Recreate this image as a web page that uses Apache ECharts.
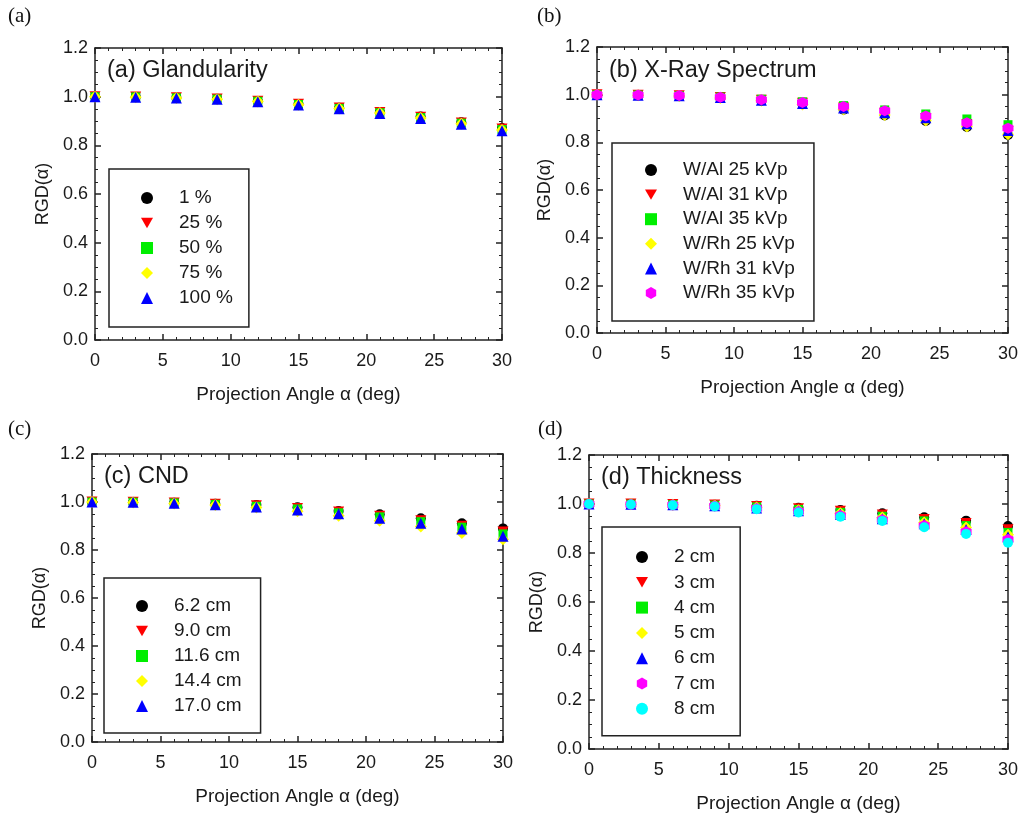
<!DOCTYPE html>
<html>
<head>
<meta charset="utf-8">
<script src="https://cdn.jsdelivr.net/npm/echarts@6/dist/echarts.min.js"></script>
<style>
  html, body { margin: 0; padding: 0; background: #fff; }
  #chart { width: 1021px; height: 816px; }
</style>
</head>
<body>
<div id="chart"></div>
<script>
// projection angles (deg)
const angles = [0, 3, 6, 9, 12, 15, 18, 21, 24, 27, 30];

// (a) glandularity
const glandLabels = ['1 %', '25 %', '50 %', '75 %', '100 %'];
const gland1   = [1.000, 0.999, 0.996, 0.991, 0.982, 0.970, 0.954, 0.937, 0.918, 0.895, 0.871];
const gland25  = [1.000, 0.999, 0.996, 0.990, 0.981, 0.969, 0.953, 0.935, 0.915, 0.892, 0.867];
const gland50  = [1.000, 0.999, 0.995, 0.990, 0.981, 0.968, 0.952, 0.934, 0.914, 0.891, 0.865];
const gland75  = [1.000, 0.998, 0.995, 0.989, 0.980, 0.967, 0.951, 0.933, 0.912, 0.889, 0.863];
const gland100 = [1.000, 0.998, 0.995, 0.989, 0.979, 0.966, 0.950, 0.931, 0.910, 0.887, 0.860];

// (b) x-ray spectrum
const specLabels = ['W/Al 25 kVp', 'W/Al 31 kVp', 'W/Al 35 kVp', 'W/Rh 25 kVp', 'W/Rh 31 kVp', 'W/Rh 35 kVp'];
const wal25 = [1.000, 0.998, 0.994, 0.986, 0.975, 0.960, 0.937, 0.913, 0.890, 0.864, 0.831];
const wal31 = [1.000, 0.998, 0.995, 0.988, 0.977, 0.964, 0.944, 0.922, 0.900, 0.875, 0.845];
const wal35 = [1.000, 0.999, 0.996, 0.990, 0.981, 0.970, 0.954, 0.936, 0.919, 0.898, 0.874];
const wrh25 = [1.000, 0.998, 0.994, 0.986, 0.975, 0.959, 0.938, 0.915, 0.892, 0.866, 0.834];
const wrh31 = [1.000, 0.998, 0.995, 0.988, 0.977, 0.963, 0.944, 0.924, 0.903, 0.878, 0.850];
const wrh35 = [1.000, 0.999, 0.996, 0.989, 0.979, 0.967, 0.950, 0.932, 0.911, 0.882, 0.859];

// (c) compressed breast diameter
const cndLabels = ['6.2 cm', '9.0 cm', '11.6 cm', '14.4 cm', '17.0 cm'];
const cnd62  = [1.000, 0.999, 0.997, 0.993, 0.988, 0.978, 0.962, 0.949, 0.932, 0.911, 0.890];
const cnd90  = [1.000, 0.999, 0.996, 0.991, 0.984, 0.973, 0.958, 0.941, 0.922, 0.899, 0.875];
const cnd116 = [1.000, 0.999, 0.996, 0.990, 0.982, 0.971, 0.955, 0.938, 0.918, 0.895, 0.867];
const cnd144 = [1.000, 0.998, 0.994, 0.987, 0.977, 0.961, 0.943, 0.922, 0.898, 0.871, 0.845];
const cnd170 = [1.000, 0.999, 0.995, 0.989, 0.979, 0.967, 0.951, 0.932, 0.911, 0.887, 0.857];

// (d) thickness
const thickLabels = ['2 cm', '3 cm', '4 cm', '5 cm', '6 cm', '7 cm', '8 cm'];
const thick2 = [1.000, 1.000, 0.999, 0.997, 0.993, 0.985, 0.976, 0.962, 0.946, 0.932, 0.910];
const thick3 = [1.000, 1.000, 0.998, 0.996, 0.990, 0.981, 0.970, 0.955, 0.937, 0.920, 0.895];
const thick4 = [1.000, 0.999, 0.998, 0.995, 0.988, 0.978, 0.966, 0.950, 0.931, 0.912, 0.884];
const thick5 = [1.000, 0.999, 0.997, 0.994, 0.986, 0.975, 0.962, 0.945, 0.925, 0.904, 0.875];
const thick6 = [1.000, 0.999, 0.997, 0.993, 0.984, 0.972, 0.958, 0.940, 0.919, 0.896, 0.866];
const thick7 = [1.000, 0.998, 0.996, 0.992, 0.982, 0.969, 0.953, 0.936, 0.912, 0.887, 0.855];
const thick8 = [1.000, 0.998, 0.995, 0.990, 0.979, 0.965, 0.948, 0.931, 0.905, 0.878, 0.842];

// marker styles
const INV_TRI = 'path://M-10,-8.66 L10,-8.66 L0,8.66 Z';
const HEXAGON = 'path://M0,-10 L8.66,-5 L8.66,5 L0,10 L-8.66,5 L-8.66,-5 Z';
const mk = {
  circle:  { symbol: 'circle', size: 10 },
  down:    { symbol: INV_TRI, size: 11 },
  square:  { symbol: 'rect', size: 9 },
  diamond: { symbol: 'diamond', size: 12 },
  up:      { symbol: 'triangle', size: 11 },
  hex:     { symbol: HEXAGON, size: 11 },
};

const FONT = 'Liberation Sans, Arial, sans-serif';
const TXT = '#1a1a1a';

const panels = [
  { letter: '(a)', title: '(a) Glandularity', labels: glandLabels,
    data: [gland1, gland25, gland50, gland75, gland100],
    marks: [mk.circle, mk.down, mk.square, mk.diamond, mk.up],
    colors: ['#000000', '#ff0000', '#00ee00', '#ffff00', '#0000ff'],
    grid: { left: 95, top: 48, width: 407, height: 292 },
    letterPos: [8, 6], titlePos: [107, 59],
    legend: { left: 109, top: 169, padding: [19, 16, 19, 32], gap: 5 } },
  { letter: '(b)', title: '(b) X-Ray Spectrum', labels: specLabels,
    data: [wal25, wal31, wal35, wrh25, wrh31, wrh35],
    marks: [mk.circle, mk.down, mk.square, mk.diamond, mk.up, mk.hex],
    colors: ['#000000', '#ff0000', '#00ee00', '#ffff00', '#0000ff', '#ff00ff'],
    grid: { left: 597, top: 47, width: 411, height: 286 },
    letterPos: [537, 6], titlePos: [609, 59],
    legend: { left: 612, top: 143, padding: [17, 19, 18, 33], gap: 4.6 } },
  { letter: '(c)', title: '(c) CND', labels: cndLabels,
    data: [cnd62, cnd90, cnd116, cnd144, cnd170],
    marks: [mk.circle, mk.down, mk.square, mk.diamond, mk.up],
    colors: ['#000000', '#ff0000', '#00ee00', '#ffff00', '#0000ff'],
    grid: { left: 92, top: 454, width: 411, height: 288 },
    letterPos: [8, 419], titlePos: [104, 465],
    legend: { left: 104, top: 578, padding: [18, 19, 17, 32], gap: 5 } },
  { letter: '(d)', title: '(d) Thickness', labels: thickLabels,
    data: [thick2, thick3, thick4, thick5, thick6, thick7, thick8],
    marks: [mk.circle, mk.down, mk.square, mk.diamond, mk.up, mk.hex, mk.circle],
    colors: ['#000000', '#ff0000', '#00ee00', '#ffff00', '#0000ff', '#ff00ff', '#00ffff'],
    grid: { left: 589, top: 455, width: 419, height: 294 },
    letterPos: [538, 419], titlePos: [601, 466],
    legend: { left: 602, top: 527, padding: [20, 25, 17, 34], gap: 5.3 } },
];

const lineStyle = { color: '#222', width: 1.5 };

function xAxisFor(i, position) {
  const main = position === 'bottom';
  return {
    type: 'value', gridIndex: i, position: position,
    min: 0, max: 30, interval: 5,
    name: main ? 'Projection Angle \u03b1 (deg)' : '',
    nameLocation: 'middle', nameGap: 45,
    nameTextStyle: { fontFamily: FONT, fontSize: 19, color: TXT },
    axisLine: { show: true, onZero: false, lineStyle: lineStyle },
    axisTick: { show: true, inside: true, length: 6, lineStyle: lineStyle },
    minorTick: { show: true, splitNumber: 5, length: 3, lineStyle: { color: '#222', width: 1 } },
    axisLabel: { show: main, margin: 12, fontFamily: FONT, fontSize: 18, color: TXT },
    splitLine: { show: false },
  };
}

function yAxisFor(i, position) {
  const main = position === 'left';
  return {
    type: 'value', gridIndex: i, position: position,
    min: 0, max: 1.2, interval: 0.2,
    name: main ? 'RGD(\u03b1)' : '',
    nameLocation: 'middle', nameGap: 43, nameRotate: 90,
    nameTextStyle: { fontFamily: FONT, fontSize: 18, color: TXT },
    axisLine: { show: true, onZero: false, lineStyle: lineStyle },
    axisTick: { show: true, inside: true, length: 6, lineStyle: lineStyle },
    minorTick: { show: true, splitNumber: 4, length: 3, lineStyle: { color: '#222', width: 1 } },
    axisLabel: { show: main, margin: 7, fontFamily: FONT, fontSize: 18, color: TXT,
                 formatter: v => v.toFixed(1) },
    splitLine: { show: false },
  };
}

const option = {
  animation: false,
  backgroundColor: '#fff',
  grid: [], xAxis: [], yAxis: [], title: [], legend: [], series: [],
};

panels.forEach((p, i) => {
  option.grid.push(Object.assign({}, p.grid));
  option.xAxis.push(xAxisFor(i, 'bottom'), xAxisFor(i, 'top'));
  option.yAxis.push(yAxisFor(i, 'left'), yAxisFor(i, 'right'));

  option.title.push({
    text: p.letter, left: p.letterPos[0], top: p.letterPos[1], padding: 0,
    textStyle: { fontFamily: 'Liberation Serif, Times New Roman, serif', fontSize: 21, fontWeight: 'normal', color: '#111' },
  });
  option.title.push({
    text: p.title, left: p.titlePos[0], top: p.titlePos[1], padding: 0,
    textStyle: { fontFamily: FONT, fontSize: 23.5, fontWeight: 'normal', color: TXT },
  });

  // legend icon kept square, text pushed right with its own padding
  option.legend.push({
    data: p.labels,
    orient: 'vertical',
    left: p.legend.left, top: p.legend.top,
    padding: p.legend.padding,
    itemGap: p.legend.gap,
    itemWidth: 12, itemHeight: 12,
    borderColor: '#222', borderWidth: 1.5,
    selectedMode: false,
    textStyle: { fontFamily: FONT, fontSize: 19, color: TXT, lineHeight: 20, padding: [0, 0, 0, 21] },
  });

  p.data.forEach((vals, k) => {
    option.series.push({
      name: p.labels[k],
      type: 'scatter',
      xAxisIndex: i * 2, yAxisIndex: i * 2,
      symbol: p.marks[k].symbol,
      symbolSize: p.marks[k].size,
      itemStyle: { color: p.colors[k], opacity: 1 },
      clip: false,
      data: angles.map((a, j) => [a, vals[j]]),
    });
  });
});

const chart = echarts.init(document.getElementById('chart'), null, { renderer: 'canvas' });
chart.setOption(option);
window.addEventListener('resize', () => { chart.resize(); });
</script>
</body>
</html>
